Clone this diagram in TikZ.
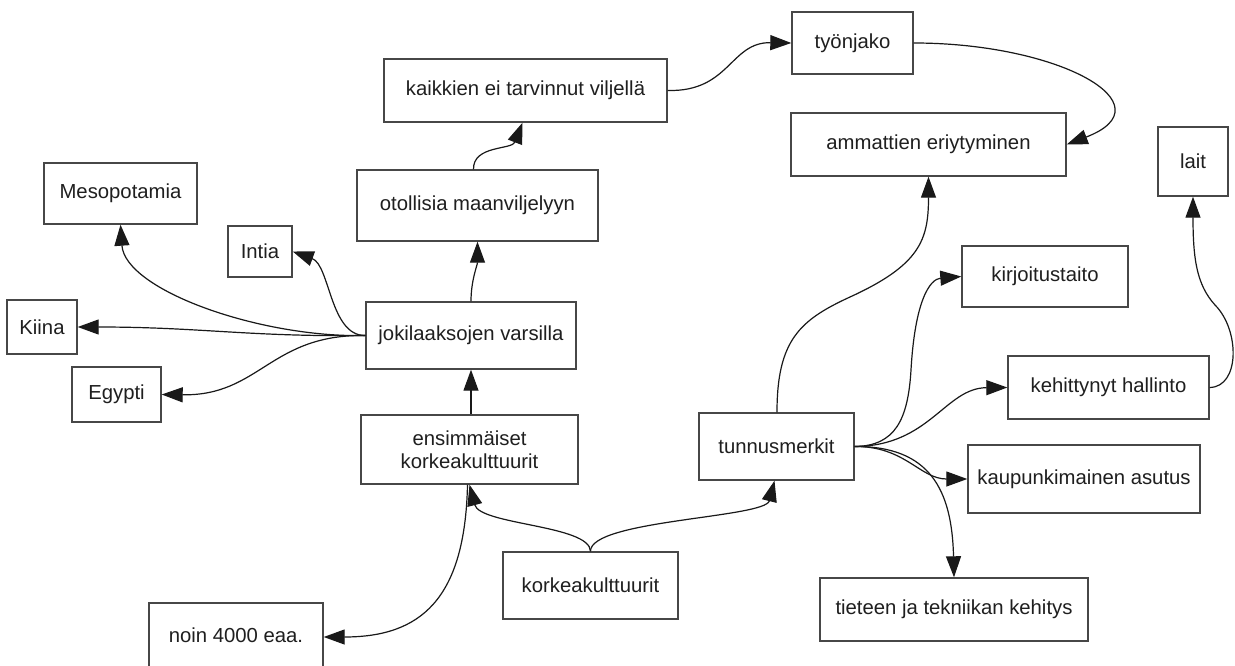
\documentclass[tikz,border=0pt]{standalone}
\usepackage{fontspec}
\setmainfont{Liberation Sans}
\usetikzlibrary{arrows.meta}
\begin{document}
\begin{tikzpicture}[x=1pt,y=-1pt,
  box/.style={draw=black!72,line width=1.4pt,rectangle,inner sep=0pt,align=center,
    text=black!88,font=\fontsize{20.3}{23.5}\selectfont},
  conn/.style={draw=black!90,line width=1.2pt,-{Triangle[length=21pt,width=15pt]}}]
\useasboundingbox[fill=white] (0,0) rectangle (1235,666);
% nodes
\node[box,minimum width=153pt,minimum height=61pt] (meso) at (120.5,193.5) {Mesopotamia};
\node[box,minimum width=64pt,minimum height=51pt] (intia) at (260,251.5) {Intia};
\node[box,minimum width=70pt,minimum height=54pt] (kiina) at (42,327) {Kiina};
\node[box,minimum width=89pt,minimum height=55pt] (egypti) at (116.5,394.5) {Egypti};
\node[box,minimum width=241pt,minimum height=71pt] (otol) at (477.5,205.5) {otollisia maanviljelyyn};
\node[box,minimum width=210pt,minimum height=67pt] (joki) at (471,335.5) {jokilaaksojen varsilla};
\node[box,minimum width=217pt,minimum height=69pt] (ens) at (469.5,449.5) {ensimmäiset\\korkeakulttuurit};
\node[box,minimum width=175pt,minimum height=67pt] (korkea) at (590.5,585.5) {korkeakulttuurit};
\node[box,minimum width=174pt,minimum height=64pt] (noin) at (236,635) {noin 4000 eaa.};
\node[box,minimum width=283pt,minimum height=63pt] (kaik) at (525.5,90.5) {kaikkien ei tarvinnut viljellä};
\node[box,minimum width=121pt,minimum height=62pt] (tyo) at (852.5,43) {työnjako};
\node[box,minimum width=275pt,minimum height=63pt] (amm) at (928.5,144.5) {ammattien eriytyminen};
\node[box,minimum width=70pt,minimum height=69pt] (lait) at (1193,161.5) {lait};
\node[box,minimum width=166pt,minimum height=61pt] (kirj) at (1045,276.5) {kirjoitustaito};
\node[box,minimum width=201pt,minimum height=63pt] (kehit) at (1108.5,387.5) {kehittynyt hallinto};
\node[box,minimum width=232pt,minimum height=68pt] (kaup) at (1084,479) {kaupunkimainen asutus};
\node[box,minimum width=268pt,minimum height=63pt] (tiet) at (954,609.5) {tieteen ja tekniikan kehitys};
\node[box,minimum width=155pt,minimum height=67pt] (tunn) at (776.5,446.5) {tunnusmerkit};
% connectors
\draw[conn] (joki.west) .. controls (260,338) and (125,290) .. (meso.south);
\draw[conn] (joki.west) .. controls (330,336) and (330,265) .. (intia.east);
\draw[conn] (joki.west) .. controls (250,337) and (200,327) .. (kiina.east);
\draw[conn] (joki.west) .. controls (270,334) and (260,396) .. (egypti.east);
\draw[conn] (joki.north) .. controls (471,280) and (477.5,265) .. (otol.south);
\draw[conn] ([xshift=-4pt]otol.north) .. controls (473,145) and (512,150) .. ([xshift=-3pt]kaik.south);
\draw[conn] (kaik.east) .. controls (730,92) and (730,42) .. (tyo.west);
\draw[conn] (tyo.east) .. controls (1060,43) and (1170,105) .. (amm.east);
\draw[conn] (joki.south |- ens.north) -- (joki.south);
\draw[conn] (korkea.north) .. controls (590,525) and (480,525) .. (ens.south);
\draw[conn] (korkea.north) .. controls (590,520) and (765,518) .. ([xshift=-2pt]tunn.south);
\draw[conn] ([xshift=-2pt]ens.south) .. controls (465,600) and (420,637) .. (noin.east |- 0,637);
\draw[conn] ([xshift=0.5pt]tunn.north) .. controls (777,340) and (800,320) .. (850,297)
  .. controls (920,265) and (928.5,240) .. (amm.south);
\draw[conn] (tunn.east) .. controls (895,446) and (908,420) .. (911,370)
  .. controls (915,300) and (930,279) .. (kirj.west);
\draw[conn] (tunn.east) .. controls (930,446) and (945,388) .. (kehit.west);
\draw[conn] (tunn.east) .. controls (905,446) and (920,479) .. (kaup.west);
\draw[conn] (tunn.east) .. controls (930,446) and (952,490) .. (tiet.north);
\draw[conn] (kehit.east) .. controls (1240,387) and (1240,330) .. (1215,305)
  .. controls (1197,285) and (1193,260) .. (lait.south);
\end{tikzpicture}
\end{document}
